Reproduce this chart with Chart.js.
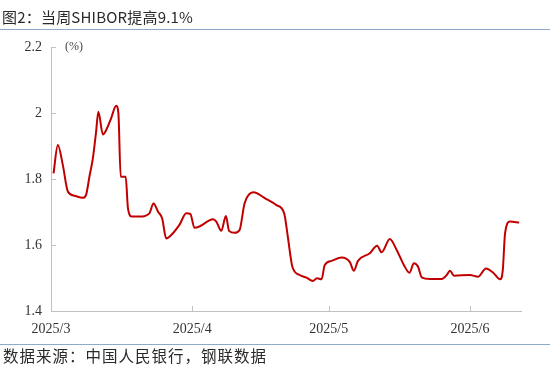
<!DOCTYPE html>
<html>
<head>
<meta charset="utf-8">
<script src="https://cdn.jsdelivr.net/npm/chart.js@4"></script>
<style>
  html, body { margin: 0; padding: 0; background: #fff; }
  #wrap { position: relative; width: 550px; height: 381px; overflow: hidden; background: #fff; }
  #c { position: absolute; left: 0; top: 0; }
  .title { position: absolute; left: 2px; top: 7px; font-family: "Noto Sans CJK SC", sans-serif; font-size: 15px; color: #2a2a2a; line-height: 20px; white-space: nowrap; letter-spacing: 0.2px; }
  .rule { position: absolute; left: 0; width: 550px; height: 1px; background: #8fa8cc; }
  .src { position: absolute; left: 3px; top: 345px; font-family: "Noto Sans CJK SC", sans-serif; font-size: 15.5px; color: #2a2a2a; line-height: 20px; white-space: nowrap; letter-spacing: 1px; }
  .unit { position: absolute; left: 65px; top: 38px; font-family: "Liberation Serif", serif; font-size: 12px; color: #444; line-height: 16px; }
</style>
</head>
<body>
<div id="wrap">
  <canvas id="c" width="550" height="381"></canvas>
  <div class="title">图2：当周SHIBOR提高9.1%</div>
  <div class="rule" style="top:29px"></div>
  <div class="unit">(%)</div>
  <div class="rule" style="top:344px"></div>
  <div class="src">数据来源：中国人民银行，钢联数据</div>
</div>
<script>
// Day offsets counted from 2025-03-01
const days = [
  0.55, 1.5, 2.6, 3.7, 5.2, 7.0, 7.7, 8.5, 9.2, 9.9,
  10.4, 11.4, 12.1, 13.2, 14.3, 14.8, 15.3, 16.4, 16.9, 17.8,
  19.5, 21.6, 22.5, 23.5, 24.4, 25.3, 26.0, 28.2, 29.7, 30.6,
  31.5, 32.6, 35.6, 36.3, 37.4, 38.4, 39.1, 40.3, 41.4, 42.5,
  44.4, 47.3, 49.5, 51.2, 52.0, 53.0, 54.6, 56.1, 57.5, 58.4,
  59.4, 60.1, 61.6, 63.8, 65.6, 66.5, 67.4, 70.0, 71.6, 72.6,
  74.4, 75.9, 77.5, 78.7, 79.7, 80.6, 81.4, 83.2, 85.8, 86.9,
  87.6, 88.5, 92.0, 93.8, 95.5, 97.1, 98.6, 99.2, 99.7, 100.8,
  102.8
];
const shibor = [
  1.817, 1.903, 1.842, 1.762, 1.749, 1.743, 1.752, 1.812, 1.863, 1.943,
  2.004, 1.935, 1.948, 1.984, 2.022, 1.999, 1.807, 1.807, 1.711, 1.686,
  1.686, 1.696, 1.726, 1.701, 1.681, 1.620, 1.625, 1.661, 1.696, 1.694,
  1.652, 1.656, 1.678, 1.671, 1.643, 1.688, 1.643, 1.637, 1.645, 1.726,
  1.760, 1.739, 1.721, 1.696, 1.625, 1.534, 1.509, 1.501, 1.491, 1.499,
  1.496, 1.539, 1.552, 1.562, 1.549, 1.522, 1.552, 1.575, 1.598, 1.578,
  1.618, 1.585, 1.539, 1.516, 1.545, 1.534, 1.502, 1.497, 1.497, 1.509,
  1.522, 1.507, 1.509, 1.504, 1.529, 1.516, 1.496, 1.524, 1.635, 1.671,
  1.668
];
const xTickDays = [0, 31, 61, 92];
const xTickLabels = ['2025/3', '2025/4', '2025/5', '2025/6'];
const yTicks = [1.4, 1.6, 1.8, 2.0, 2.2];
const yTickLabels = ['1.4', '1.6', '1.8', '2', '2.2'];

const points = days.map((d, i) => ({ x: d, y: shibor[i] }));
const AXIS_COLOR = '#c0c0c0';

const innerTicks = {
  id: 'innerTicks',
  afterDraw(chart) {
    const ctx = chart.ctx;
    const xs = chart.scales.x, ys = chart.scales.y;
    const a = chart.chartArea;
    ctx.save();
    ctx.strokeStyle = AXIS_COLOR;
    ctx.lineWidth = 1;
    ctx.beginPath();
    xTickDays.forEach(v => {
      const px = Math.round(xs.getPixelForValue(v)) + 0.5;
      ctx.moveTo(px, a.bottom);
      ctx.lineTo(px, a.bottom - 5);
    });
    yTicks.forEach(v => {
      const py = Math.round(ys.getPixelForValue(v)) + 0.5;
      ctx.moveTo(a.left, py);
      ctx.lineTo(a.left + 5, py);
    });
    ctx.stroke();
    ctx.restore();
  }
};

new Chart(document.getElementById('c'), {
  type: 'line',
  data: {
    datasets: [{
      data: points,
      borderColor: '#c00000',
      borderWidth: 2,
      pointRadius: 0,
      fill: false,
      cubicInterpolationMode: 'monotone'
    }]
  },
  options: {
    responsive: false,
    animation: false,
    devicePixelRatio: 1,
    layout: { padding: { left: 0, top: 47, right: 29, bottom: 0 } },
    plugins: { legend: { display: false }, tooltip: { enabled: false }, title: { display: false } },
    scales: {
      x: {
        type: 'linear',
        min: 0,
        max: 103.2,
        grid: { display: false, drawTicks: false },
        border: { display: true, color: AXIS_COLOR, width: 1 },
        afterBuildTicks: s => { s.ticks = xTickDays.map(v => ({ value: v })); },
        afterFit: s => { s.height = 70; },
        ticks: {
          autoSkip: false,
          maxRotation: 0,
          padding: 10,
          color: '#333',
          font: { family: '"Liberation Serif", serif', size: 14 },
          callback: v => xTickLabels[xTickDays.indexOf(v)]
        }
      },
      y: {
        min: 1.4,
        max: 2.2,
        grid: { display: false, drawTicks: false },
        border: { display: true, color: AXIS_COLOR, width: 1 },
        afterBuildTicks: s => { s.ticks = yTicks.map(v => ({ value: v })); },
        afterFit: s => { s.width = 51; },
        ticks: {
          padding: 9,
          color: '#333',
          font: { family: '"Liberation Serif", serif', size: 14 },
          callback: v => yTickLabels[yTicks.indexOf(v)]
        }
      }
    }
  },
  plugins: [innerTicks]
});
</script>
</body>
</html>
